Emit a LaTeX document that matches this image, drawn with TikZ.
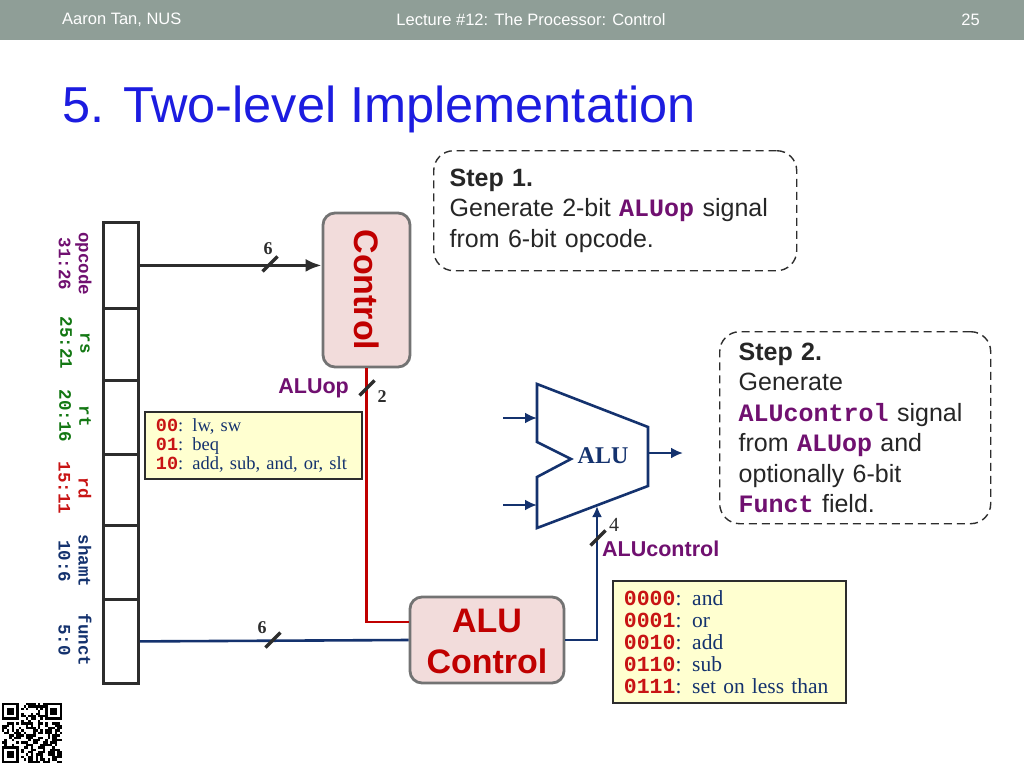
\documentclass[tikz,border=0pt]{standalone}
\usepackage{fontspec}
\setmainfont{Liberation Serif}
\setsansfont{Liberation Sans}
\setmonofont{Liberation Mono}
\usetikzlibrary{arrows.meta,calc}
\definecolor{hdr}{RGB}{143,158,151}
\definecolor{titleblue}{RGB}{28,28,224}
\definecolor{ctlred}{RGB}{192,0,0}
\definecolor{pinkfill}{RGB}{242,220,219}
\definecolor{boxgray}{RGB}{115,115,115}
\definecolor{cpurple}{RGB}{112,16,112}
\definecolor{cgreen}{RGB}{20,120,20}
\definecolor{cred}{RGB}{200,20,20}
\definecolor{cnavy}{RGB}{20,50,110}
\definecolor{yellowfill}{RGB}{255,255,208}
\definecolor{steptext}{RGB}{38,38,38}
\definecolor{irgray}{RGB}{45,45,45}
\newcommand{\codered}[1]{{\ttfamily\bfseries\color{cred}#1}}
\newcommand{\codepurple}[1]{{\ttfamily\bfseries\color{cpurple}#1}}
\begin{document}
\begin{tikzpicture}[x=1pt,y=-1pt,
  hdrtext/.style={text=white,font=\sffamily\fontsize{16.5}{18}\selectfont,inner sep=0},
  field/.style={draw=irgray,line width=2.8pt,minimum width=35,inner sep=0,anchor=north west},
  flabel/.style={rotate=-90,align=center,font=\ttfamily\bfseries\fontsize{17.5}{20}\selectfont,inner sep=0},
  ctlbox/.style={draw=boxgray,fill=pinkfill,line width=2.8pt,rounded corners=12,inner sep=0},
  ctltext/.style={text=ctlred,font=\sffamily\bfseries\fontsize{34}{41}\selectfont,align=center,inner sep=0},
  infobox/.style={draw=irgray,fill=yellowfill,line width=1.8pt,anchor=north west,align=left,inner ysep=0,text=cnavy},
  stepbox/.style={draw=irgray,dashed,dash pattern=on 8pt off 5pt,line width=1.4pt,rounded corners=20,anchor=north west,align=left,inner ysep=0,text=steptext,font=\sffamily\fontsize{25}{30.5}\selectfont},
  blkline/.style={draw=irgray,line width=3.2pt},
  redline/.style={draw=ctlred,line width=2.2pt},
  blueline/.style={draw=cnavy,line width=2.6pt},
  sigtext/.style={text=cpurple,font=\sffamily\bfseries\fontsize{21.5}{24}\selectfont,inner sep=0},
  numtext/.style={text=irgray,font=\rmfamily\bfseries\fontsize{18}{20}\selectfont,inner sep=0},
  busmark/.pic={\draw[line width=3.4pt,irgray] (-7.5,7.5) -- (7.5,-7.5);}
]
\useasboundingbox (0,0) rectangle (1024,768);
\fill[white] (0,0) rectangle (1024,768);
% header
\fill[hdr] (0,0) rectangle (1024,40);
\node[hdrtext,anchor=west] (h1) at (62,20) {Aaron Tan, NUS};
\node[hdrtext] (h2) at (531,20) {Lecture \#12: The Processor: Control};
\node[hdrtext,anchor=east] (h3) at (980,20) {25};
% title
\node[anchor=base west,inner sep=0,text=titleblue,font=\sffamily\fontsize{50.5}{60}\selectfont] (title) at (62,122) {5. Two-level Implementation};

% instruction fields
\node[field,minimum height=86] (f1) at (102,221) {};
\node[field,minimum height=72] (f2) at (102,307) {};
\node[field,minimum height=74] (f3) at (102,379) {};
\node[field,minimum height=71] (f4) at (102,453) {};
\node[field,minimum height=74] (f5) at (102,524) {};
\node[field,minimum height=84] (f6) at (102,598) {};
\node[flabel,text=cpurple] (l1) at (75,264) {opcode\\31:26};
\node[flabel,text=cgreen] (l2) at (75,343) {rs\\25:21};
\node[flabel,text=cgreen] (l3) at (75,416) {rt\\20:16};
\node[flabel,text=cred] (l4) at (75,488) {rd\\15:11};
\node[flabel,text=cnavy] (l5) at (75,561) {shamt\\10:6};
\node[flabel,text=cnavy] (l6) at (75,640) {funct\\5:0};

% Control
\node[ctlbox,minimum width=87,minimum height=154] (control) at (366.5,290) {};
\node[ctltext,rotate=-90] (controltext) at (control.center) {Control};
\draw[blkline,-{Latex[length=16pt,width=13pt]}] (f1.east) -- (f1.east -| control.west);
\pic at (270,264) {busmark};
\node[numtext] (n6a) at (268,249) {6};

% ALU Control
\node[ctlbox,minimum width=154,minimum height=86] (aluctl) at (487,640) {};
\node[ctltext] (aluctltext) at (487,641) {ALU\\Control};
\draw[redline] (control.south) |- ($(aluctl.west)+(0,-18)$);
\pic at (367,388) {busmark};
\node[numtext] (n2) at (382,397) {2};
\node[sigtext,anchor=east] (aluop) at (349,388) {ALUop};
\draw[blueline] (f6.east) -- (aluctl.west);
\pic at (273,640) {busmark};
\node[numtext] (n6b) at (262,628) {6};

% ALUop box
\node[infobox,minimum height=67,text width=195,inner xsep=11,font=\rmfamily\fontsize{18.5}{19}\selectfont] (opbox) at (144,411)
  {\codered{00}: lw, sw\\\codered{01}: beq\\\codered{10}: add, sub, and, or, slt};

% ALU
\coordinate (a1) at (537,384);
\coordinate (a2) at (648,427);
\coordinate (a3) at (648,486);
\coordinate (a4) at (537,528);
\coordinate (a5) at (537,477);
\coordinate (a6) at (571,459);
\coordinate (a7) at (537,442);
\draw[blueline,line join=miter] (a1) -- (a2) -- (a3) -- (a4) -- (a5) -- (a6) -- (a7) -- cycle;
\node[text=cnavy,font=\rmfamily\bfseries\fontsize{24}{26}\selectfont,inner sep=0] (alulabel) at (603,456) {ALU};
\coordinate (inA) at (503,418);
\coordinate (inB) at (503,505);
\coordinate (outA) at (683,453);
\coordinate (alubot) at (597,506);
\draw[blueline,-{Latex[length=12pt,width=11pt]}] (inA) -- (inA -| a1);
\draw[blueline,-{Latex[length=12pt,width=11pt]}] (inB) -- (inB -| a1);
\draw[blueline,-{Latex[length=12pt,width=11pt]}] (a2 |- outA) -- (outA);
\draw[blueline,-{Latex[length=11pt,width=10pt]}] (aluctl.east) -| (alubot);
\pic at (598,538) {busmark};
\node[text=irgray,font=\rmfamily\fontsize{20}{22}\selectfont,inner sep=0] (n4) at (614,525) {4};
\node[sigtext,anchor=west] (aluctlsig) at (602,549) {ALUcontrol};

% ALUcontrol box
\node[infobox,minimum height=122,text width=211,inner xsep=11,font=\rmfamily\fontsize{21.5}{22}\selectfont] (ctlcodes) at (612,580)
  {\codered{0000}: and\\\codered{0001}: or\\\codered{0010}: add\\\codered{0110}: sub\\\codered{0111}: set on less than};

% Step boxes
\node[stepbox,minimum height=120,text width=331,inner xsep=16] (step1) at (433,150)
  {\textbf{Step 1.}\\Generate 2-bit \codepurple{ALUop} signal\\from 6-bit opcode.};
\node[stepbox,minimum height=192,text width=233,inner xsep=19] (step2) at (719,331)
  {\textbf{Step 2.}\\Generate\\\codepurple{ALUcontrol} signal\\from \codepurple{ALUop} and\\optionally 6-bit\\\codepurple{Funct} field.};

% QR code approximation
\begin{scope}[shift={(2,703)}]
\pgfmathsetseed{11}
\foreach \i in {0,...,24}{
  \foreach \j in {0,...,24}{
    \pgfmathrandominteger{\r}{0}{1}
    \ifnum\r=1 \fill[black] (\i*2.4,\j*2.4) rectangle ++(2.4,2.4); \fi
  }
}
\foreach \px/\py in {0/0,43.2/0,0/43.2}{
  \fill[white] (\px-0.1,\py-0.1) rectangle (\px+19.3,\py+19.3);
  \fill[black] (\px,\py) rectangle (\px+16.8,\py+16.8);
  \fill[white] (\px+2.4,\py+2.4) rectangle (\px+14.4,\py+14.4);
  \fill[black] (\px+4.8,\py+4.8) rectangle (\px+12,\py+12);
}
\end{scope}
\end{tikzpicture}
\end{document}
